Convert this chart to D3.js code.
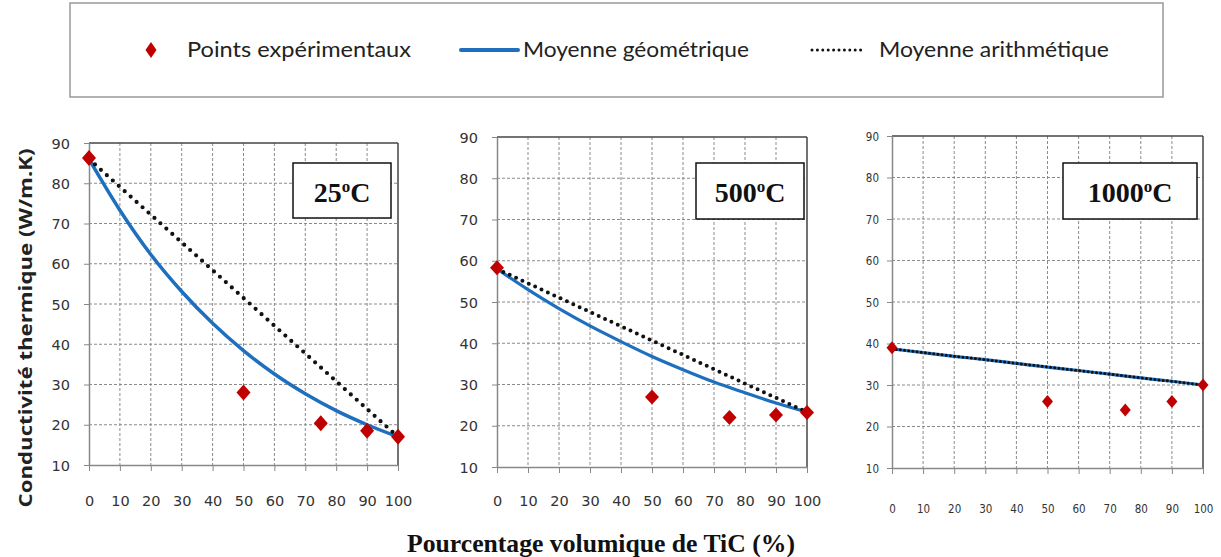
<!DOCTYPE html>
<html><head><meta charset="utf-8">
<script src="https://cdn.jsdelivr.net/npm/d3@7"></script>
<style>body{margin:0;background:#fff}svg{display:block}</style>
</head><body><svg id="c" width="1221" height="557"></svg>
<script>
// ---- data ----
const xTicks = [0,10,20,30,40,50,60,70,80,90,100];
const yTicks = [10,20,30,40,50,60,70,80,90];
const expX = [0,50,75,90,100];
const exp25 = [86.3,28,20.4,18.5,17];
const exp500 = [58.3,27,22,22.6,23.2];
const exp1000 = [39,26,24,26,30];
const geoX = [0,10,20,30,40,50,60,70,80,90,100];
const geo25 = [86,73.3,62.3,53.1,45.2,38.4,32.6,27.7,23.5,20,17];
const geo500 = [58,53,48.4,44.2,40.4,36.8,33.6,30.6,28,25.5,23.3];
const geo1000 = [38.7,37.8,36.9,36.1,35.2,34.3,33.5,32.6,31.7,30.9,30];
const ariX = [0,100];
const ari25 = [86,17];
const ari500 = [58,23.3];
const ari1000 = [38.7,30];
const panelLabels = ["25","500","1000"];
const legendLabels = ["Points expérimentaux","Moyenne géométrique","Moyenne arithmétique"];

const svg = d3.select("#c");
const BLUE = "#1f6fbf", RED = "#c00000";

const panels = [
  {exp:exp25, geo:geo25, ari:ari25, lab:panelLabels[0], l:89, r:398, t:143, b:465, fs:14.5, ff:"DejaVu Sans", xly:506, ylx:70,
   box:[293,163,391,218], dh:8, dw:7, lw:3.5, dot:4.2, gap:8},
  {exp:exp500, geo:geo500, ari:ari500, lab:panelLabels[1], l:497, r:807, t:137, b:467, fs:14.5, ff:"DejaVu Sans", xly:506, ylx:478,
   box:[696,163,804,219], dh:7.5, dw:7, lw:3.2, dot:4, gap:7},
  {exp:exp1000, geo:geo1000, ari:ari1000, lab:panelLabels[2], l:892, r:1203, t:136, b:468, fs:11.5, ff:"DejaVu Sans Condensed", xly:513, ylx:879,
   box:[1063,163,1197,219], dh:6.5, dw:5.5, lw:3.2, dot:3, gap:4.2}
];

panels.forEach(p => {
  const x = d3.scaleLinear().domain([0,100]).range([p.l,p.r]);
  const y = d3.scaleLinear().domain([10,90]).range([p.b,p.t]);
  const g = svg.append("g");
  // grid
  g.selectAll(".vg").data(xTicks.filter(d=>d>0&&d<100)).join("line")
    .attr("x1",d=>x(d)).attr("x2",d=>x(d)).attr("y1",p.t).attr("y2",p.b)
    .attr("stroke","#8a8a8a").attr("stroke-dasharray","3,2").attr("stroke-width",1);
  g.selectAll(".hg").data(yTicks.filter(d=>d>10&&d<90)).join("line")
    .attr("y1",d=>y(d)).attr("y2",d=>y(d)).attr("x1",p.l).attr("x2",p.r)
    .attr("stroke","#8a8a8a").attr("stroke-dasharray","3,2").attr("stroke-width",1);
  // border top/right
  g.append("line").attr("x1",p.l).attr("x2",p.r).attr("y1",p.t).attr("y2",p.t).attr("stroke","#444").attr("stroke-width",1.5);
  g.append("line").attr("x1",p.r).attr("x2",p.r).attr("y1",p.t).attr("y2",p.b).attr("stroke","#444").attr("stroke-width",1.5);
  // axes
  const xa = g.append("g").attr("transform",`translate(0,${p.b})`)
    .call(d3.axisBottom(x).tickValues(xTicks).tickSize(6).tickSizeOuter(0).tickPadding(0));
  const ya = g.append("g").attr("transform",`translate(${p.l},0)`)
    .call(d3.axisLeft(y).tickValues(yTicks).tickSize(5).tickSizeOuter(0));
  [xa,ya].forEach(a=>{
    a.select(".domain").attr("stroke","#888").attr("stroke-width",1.5);
    a.selectAll(".tick line").attr("stroke","#888");
    a.selectAll("text").attr("font-family",p.ff).attr("font-size",p.fs).attr("fill","#333");
  });
  xa.selectAll("text").attr("y",p.xly-p.b).attr("dy",0);
  ya.selectAll("text").attr("x",p.ylx-p.l).attr("dy","0.35em");
  const ariLine = d3.line().x((d,i)=>x(ariX[i])).y(d=>y(d));
  const geoLine = d3.line().x((d,i)=>x(geoX[i])).y(d=>y(d)).curve(d3.curveMonotoneX);
  g.append("path").attr("d",geoLine(p.geo)).attr("fill","none").attr("stroke",BLUE).attr("stroke-width",p.lw);
  g.append("path").attr("d",ariLine(p.ari)).attr("fill","none").attr("stroke","#111")
    .attr("stroke-width",p.dot).attr("stroke-linecap","round").attr("stroke-dasharray",`0,${p.gap}`);
  g.selectAll(".pt").data(p.exp).join("path")
    .attr("transform",(d,i)=>`translate(${x(expX[i])},${y(d)})`)
    .attr("d",`M0,${-p.dh}L${p.dw},0L0,${p.dh}L${-p.dw},0Z`).attr("fill",RED);
  const [bx0,by0,bx1,by1] = p.box;
  g.append("rect").attr("x",bx0).attr("y",by0).attr("width",bx1-bx0).attr("height",by1-by0)
    .attr("fill","#fff").attr("stroke","#111").attr("stroke-width",1.5);
  const t = g.append("text").attr("x",(bx0+bx1)/2).attr("y",202).attr("text-anchor","middle")
    .attr("font-family","Liberation Serif").attr("font-weight","bold").attr("font-size",28).attr("fill","#111");
  t.append("tspan").text(p.lab);
  t.append("tspan").attr("font-size",17).attr("dy",-10).text("o");
  t.append("tspan").attr("dy",10).text("C");
});

// y title
svg.append("text").attr("transform","translate(32,328) rotate(-90)").attr("text-anchor","middle")
  .attr("font-family","Open Sans").attr("font-weight","bold").attr("font-size",18).attr("fill","#222")
  .attr("textLength",359).attr("lengthAdjust","spacingAndGlyphs")
  .text("Conductivité thermique (W/m.K)");
// x title
svg.append("text").attr("x",601).attr("y",552).attr("text-anchor","middle")
  .attr("font-family","Liberation Serif").attr("font-weight","bold").attr("font-size",26).attr("fill","#111")
  .attr("textLength",388).attr("lengthAdjust","spacingAndGlyphs")
  .text("Pourcentage volumique de TiC (%)");

// legend
svg.append("rect").attr("x",70).attr("y",3).attr("width",1093).attr("height",94)
  .attr("fill","#fff").attr("stroke","#999").attr("stroke-width",1.5);
const ly = 50;
svg.append("path").attr("transform",`translate(151,${ly})`).attr("d","M0,-8L5.5,0L0,8L-5.5,0Z").attr("fill",RED);
svg.append("line").attr("x1",461).attr("x2",518).attr("y1",ly).attr("y2",ly).attr("stroke",BLUE).attr("stroke-width",4).attr("stroke-linecap","round");
svg.append("line").attr("x1",812).attr("x2",866).attr("y1",ly).attr("y2",ly).attr("stroke","#111").attr("stroke-width",3)
  .attr("stroke-linecap","round").attr("stroke-dasharray","0,5.4");
const lt = [[187,224],[523,226],[879,230]];
legendLabels.forEach((s,i)=>{
  svg.append("text").attr("x",lt[i][0]).attr("y",ly+7).attr("font-family","Lato").attr("font-size",21).attr("fill","#222")
    .attr("textLength",lt[i][1]).attr("lengthAdjust","spacingAndGlyphs").text(s);
});
</script></body></html>
